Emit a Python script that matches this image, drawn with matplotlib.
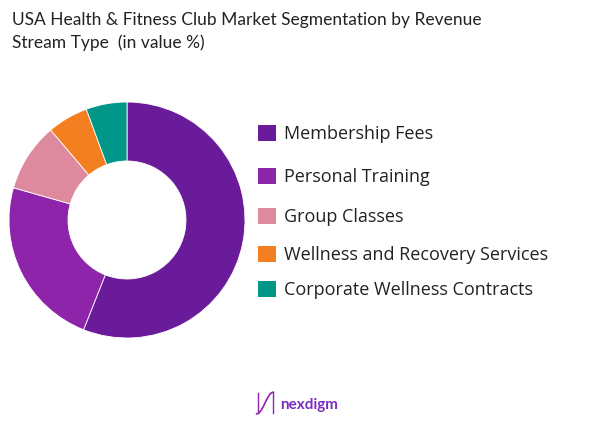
import numpy as np
import matplotlib.pyplot as plt
from matplotlib.patches import Rectangle

# Datos del gráfico
labels = ["Membership Fees", "Personal Training", "Group Classes",
          "Wellness and Recovery Services", "Corporate Wellness Contracts"]
values = [56.0, 23.4, 9.4, 5.6, 5.6]
colors = ["#6A1B9A", "#8E24AA", "#DE8A9E", "#F47F20", "#009688"]
title = "USA Health & Fitness Club Market Segmentation by Revenue\nStream Type  (in value %)"

W, H = 600, 427
fig = plt.figure(figsize=(W / 100, H / 100), dpi=100)
plt.rcParams['font.family'] = ['Lato', 'DejaVu Sans']

# Donut: centro (127, 221) px, radio 118 px
cx, cy, r = 127, 221, 118
ax = fig.add_axes([(cx - r) / W, (H - cy - r) / H, 2 * r / W, 2 * r / H])
ax.pie(values, colors=colors, startangle=90, counterclock=False,
       radius=1.0, wedgeprops=dict(width=0.5, edgecolor="white", linewidth=0.6))
ax.set_xlim(-1, 1)
ax.set_ylim(-1, 1)
ax.set_aspect("equal")
ax.axis("off")

# Título
fig.text(12 / W, 1 - 12 / H, title, ha="left", va="top", fontsize=12.5,
         color="#222222", linespacing=1.45)

# Leyenda manual
legend_y = [134, 177, 217, 255, 290]
for lab, col, y in zip(labels, colors, legend_y):
    fig.patches.append(Rectangle((258 / W, 1 - (y + 8) / H), 18 / W, 16 / H,
                                 transform=fig.transFigure, facecolor=col,
                                 edgecolor="none"))
    fig.text(284 / W, 1 - y / H, lab, ha="left", va="center", fontsize=13,
             color="#222222", family=["Open Sans", "DejaVu Sans"])

# Logo
lx = np.linspace(0, 1, 50)
lax = fig.add_axes([255 / W, 1 - 416 / H, 20 / W, 24 / H])
lax.plot(lx, 0.5 + 0.45 * np.sin(np.pi * (lx - 0.5)), color="#8E24AA", lw=1.2)
lax.plot([0.05, 0.05], [0.1, 0.9], color="#8E24AA", lw=1.0)
lax.plot([0.95, 0.95], [0.1, 0.9], color="#8E24AA", lw=1.0)
lax.set_xlim(-0.1, 1.1)
lax.set_ylim(0, 1)
lax.axis("off")
fig.text(280 / W, 1 - 405 / H, "nexdigm", ha="left", va="center", fontsize=11,
         color="#7B2FBE", fontweight="bold")

fig.savefig("out.png", dpi=100, facecolor="white")
